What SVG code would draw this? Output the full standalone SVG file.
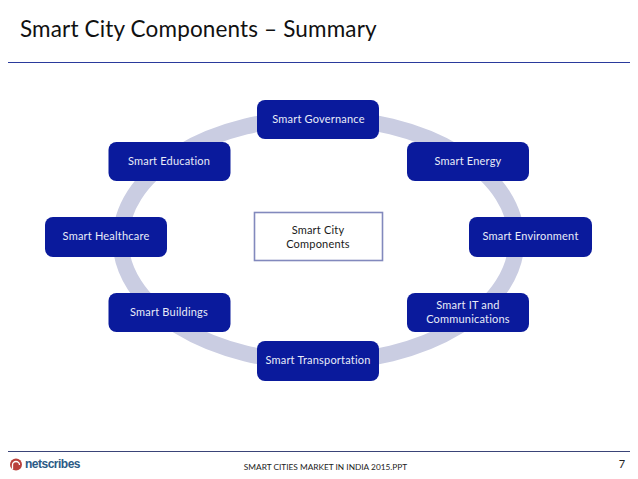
<svg xmlns="http://www.w3.org/2000/svg" width="638" height="479" viewBox="0 0 638 479">
<style>
text{font-family:Lato,"Liberation Sans",sans-serif}
.n{fill:#0a1a9c;stroke:none}
.t{fill:#e8ecf8;font-size:11px;text-anchor:middle;letter-spacing:.2px}
.c{fill:#1a1a1a;font-size:11px;text-anchor:middle;letter-spacing:.2px}
.logo{font-family:"Liberation Sans",sans-serif;font-size:12px;font-weight:700;fill:#2b5a86;letter-spacing:-.5px}
</style>
<rect width="638" height="479" fill="#fff"/>
<g id="header">
<text x="20" y="37" font-size="22.500" fill="#111" letter-spacing=".15">Smart City Components – Summary</text>
<line x1="8" y1="62.500" x2="630" y2="62.500" stroke="#2a3a9c" stroke-width="1.2"/>
</g>
<g id="connectors">
<ellipse cx="318.500" cy="240" rx="198" ry="122" fill="none" stroke="#cacde2" stroke-width="16"/>
</g>
<g id="gov"><rect class="n" x="257" y="100" width="122" height="39" rx="8"/><text class="t" x="318.500" y="123">Smart Governance</text></g>
<g id="energy"><rect class="n" x="407" y="142" width="122" height="39" rx="8"/><text class="t" x="468" y="165">Smart Energy</text></g>
<g id="education"><rect class="n" x="108.500" y="142" width="122" height="39" rx="8"/><text class="t" x="169" y="165">Smart Education</text></g>
<g id="healthcare"><rect class="n" x="45" y="217" width="122" height="40" rx="8"/><text class="t" x="106" y="240">Smart Healthcare</text></g>
<g id="environment"><rect class="n" x="469" y="217" width="123" height="40" rx="8"/><text class="t" x="530.500" y="240">Smart Environment</text></g>
<g id="buildings"><rect class="n" x="108.500" y="293" width="122" height="39" rx="8"/><text class="t" x="169" y="316">Smart Buildings</text></g>
<g id="it"><rect class="n" x="407" y="293" width="122" height="39" rx="8"/><text class="t" x="468" y="309">Smart IT and</text><text class="t" x="468" y="323">Communications</text></g>
<g id="transport"><rect class="n" x="257" y="341" width="122" height="40" rx="8"/><text class="t" x="318" y="364">Smart Transportation</text></g>
<g id="center"><rect x="254.500" y="212.500" width="128" height="48" fill="#fff" stroke="#8289bd" stroke-width="1.6"/><text class="c" x="318" y="234">Smart City</text><text class="c" x="318" y="248">Components</text></g>
<g id="footer">
<line x1="8" y1="451.500" x2="630" y2="451.500" stroke="#3a4478" stroke-width="1.2"/>
<circle cx="16" cy="464.500" r="6" fill="#b9403c"/><path d="M12.500 469v-4a3.500 3.500 0 0 1 7 0" fill="none" stroke="#fff" stroke-width="1.300"/>
<text class="logo" x="25" y="468">netscribes</text>
<text x="325.500" y="470" font-size="8.300" fill="#222" text-anchor="middle">SMART CITIES MARKET IN INDIA 2015.PPT</text>
<text x="622" y="468" font-size="11" fill="#222" text-anchor="middle">7</text>
</g>
</svg>
